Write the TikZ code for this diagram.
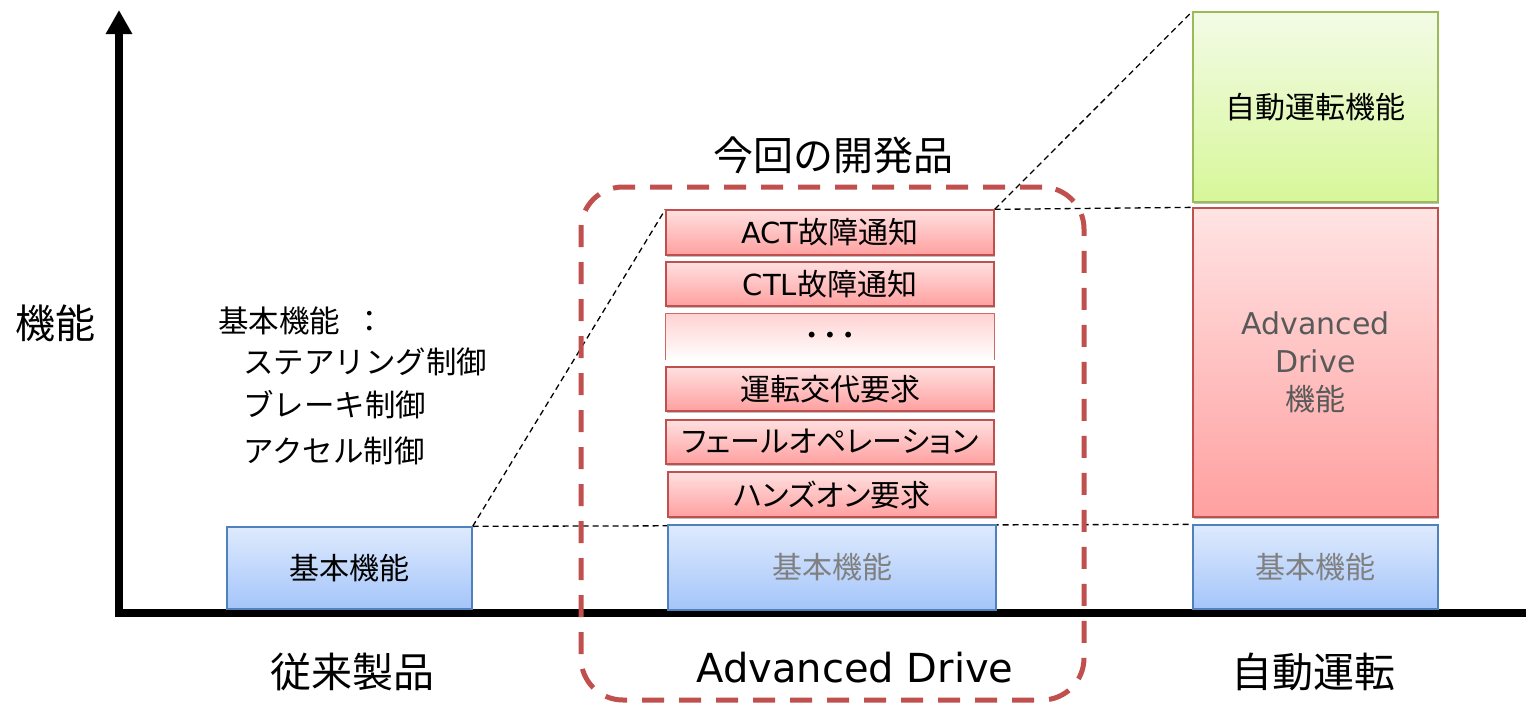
\documentclass[tikz,border=0pt]{standalone}
\usepackage{fontspec}
\setmainfont{Noto Sans CJK JP}
\newfontfamily\jpp{Noto Sans CJK JP}[RawFeature=+palt]
\newfontfamily\lat{DejaVu Sans}
\usetikzlibrary{arrows.meta,shadows,backgrounds}
\newcommand\fsz[1]{\fontsize{#1}{#1}\selectfont}
\definecolor{btop}{HTML}{DEEAFD}
\definecolor{bbot}{HTML}{A4C5FA}
\definecolor{bbord}{HTML}{4F81BD}
\definecolor{rtop}{HTML}{FFE0E0}
\definecolor{rbot}{HTML}{FFA0A0}
\definecolor{rbord}{HTML}{C0504D}
\definecolor{gtop}{HTML}{F3FBE6}
\definecolor{gbot}{HTML}{D7F799}
\definecolor{gbord}{HTML}{9BBB59}
\definecolor{dtop}{HTML}{FFD2D2}
\definecolor{graytxt}{HTML}{808080}
\definecolor{darkgray}{HTML}{595959}
\begin{document}
\begin{tikzpicture}[x=1pt,y=-1pt,
  txt/.style={inner sep=0pt},
  shad/.style={drop shadow={shadow xshift=1.2pt,shadow yshift=-2pt,opacity=0.25,fill=black}},
  bluebox/.style={draw=bbord,line width=1.3pt,top color=btop,bottom color=bbot,inner sep=0pt,shad},
  redbox/.style={draw=rbord,line width=1.3pt,top color=rtop,bottom color=rbot,inner sep=0pt,shad,font=\jpp\fsz{30}},
  greenbox/.style={draw=gbord,line width=1.3pt,top color=gtop,bottom color=gbot,inner sep=0pt,shad},
  guide/.style={black,line width=1.3pt,dash pattern=on 6pt off 4pt},
  devframe/.style={draw=rbord,line width=5pt,dash pattern=on 22pt off 15pt,rounded corners=42pt,inner sep=0pt}]
\useasboundingbox (0,0) rectangle (1526,704);

% axes
\draw[line width=7.5pt,line join=miter,{Triangle[width=25pt,length=24pt]}-] (119,10) |- (1526,613);

% labels
\node[txt] (ylab) at (55,323) {\fsz{40}機能};
\node[txt,anchor=west] (l1) at (218,321) {\fsz{30.5}基本機能\hspace{14pt}：};
\node[txt,anchor=west] (l2) at (243,362) {\fsz{30.5}ステアリング制御};
\node[txt,anchor=west] (l3) at (243,405) {\fsz{30.5}ブレーキ制御};
\node[txt,anchor=west] (l4) at (243,451) {\fsz{30.5}アクセル制御};
\node[txt] (title) at (833,155) {\fsz{40}今回の開発品};
\node[txt] (x1) at (352,672) {\fsz{41}従来製品};
\node[txt] (x2) at (855,668) {\lat\fsz{40}Advanced Drive};
\node[txt] (x3) at (1313,672) {\fsz{41}自動運転};

% base boxes
\node[bluebox,minimum width=245pt,minimum height=82pt] (b1) at (349.5,568) {\fsz{30}基本機能};
\node[bluebox,minimum width=328pt,minimum height=85pt] (b2) at (832,567.5) {\color{graytxt}\fsz{30}基本機能};
\node[bluebox,minimum width=245pt,minimum height=84pt] (b3) at (1315.5,567) {\color{graytxt}\fsz{30}基本機能};

% Advanced Drive functions
\node[redbox,minimum width=328pt,minimum height=45pt] (act) at (830,232.5) {{\lat\fsz{29}ACT}故障通知};
\node[redbox,minimum width=328pt,minimum height=44pt] (ctl) at (830,284) {{\lat\fsz{29}CTL}故障通知};
\node[inner sep=0pt,minimum width=328pt,minimum height=46pt,top color=dtop,bottom color=white] (dots) at (830,337) {\lat\fsz{20}• • •};
\draw[rbord!85,line width=1.3pt] (dots.south west) -- (dots.north west) -- (dots.north east) -- (dots.south east);
\node[redbox,minimum width=328pt,minimum height=44pt] (r3) at (830,389) {運転交代要求};
\node[redbox,minimum width=328pt,minimum height=44pt] (r4) at (830,442) {フェールオペレーション};
\node[redbox,minimum width=328pt,minimum height=45pt] (r5) at (832,494.5) {ハンズオン要求};

% automated driving
\node[greenbox,minimum width=245pt,minimum height=190pt] (auto) at (1315.5,107) {\fsz{30}自動運転機能};
\node[redbox,minimum width=245pt,minimum height=309pt,top color=rtop!90!white,bottom color=rbot,align=center,text=darkgray,font=\fontsize{30}{38}\selectfont] (adf) at (1315.5,362.5)
  {{\lat Advanced}\\{\lat Drive}\\機能};

% guides
\begin{pgfonlayer}{background}
\draw[guide] (b1.north east) -- (act.north west);
\draw[guide] (b1.north east) -- (b3.north west);
\draw[guide] (act.north east) -- (auto.north west);
\draw[guide] (act.north east) -- (adf.north west);
\end{pgfonlayer}

% development frame
\node[devframe,minimum width=503pt,minimum height=513pt] (dev) at (832.5,443.5) {};
\end{tikzpicture}
\end{document}
